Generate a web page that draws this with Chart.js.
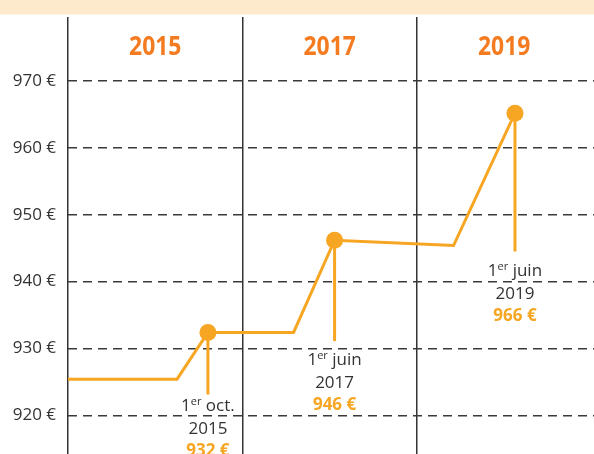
<!DOCTYPE html>
<html>
<head>
<meta charset="utf-8">
<script src="https://cdn.jsdelivr.net/npm/chart.js@4/dist/chart.umd.min.js"></script>
<style>
  html, body { margin: 0; padding: 0; background: #ffffff; }
  #wrap { width: 594px; height: 454px; position: relative; }
</style>
</head>
<body>
<div id="wrap"><canvas id="c" width="594" height="454"></canvas></div>
<script>
// ---- data ----
const columnYears = ['2015', '2017', '2019'];
const stepX = [0, 0.625, 0.802, 1.293, 1.528, 2.210, 2.562];      // position along the timeline (1 unit = one column)
const stepValues = [925.4, 925.4, 932.4, 932.4, 946.2, 945.4, 965.2]; // € amounts
const markerIndex = [2, 4, 6];
const markerDay = ['1', '1', '1'];
const markerSup = ['er', 'er', 'er'];
const markerMonth = ['oct.', 'juin', 'juin'];
const markerYear = ['2015', '2017', '2019'];
const markerAmount = ['932 €', '946 €', '966 €'];
const leaderEndValues = [923.1, 931.1, 944.5];
const labelCenterValues = [921.5, 928.4, 941.7];
const yTickValues = [920, 930, 940, 950, 960, 970];
const xTickValues = [0, 1, 2];

const ORANGE = '#f6a623';
const HEAD_ORANGE = '#f47b20';
const GREY = '#333333';
const FONT = '"Open Sans", "DejaVu Sans", sans-serif';

const points = stepX.map((x, i) => ({ x: x, y: stepValues[i] }));

const decorPlugin = {
  id: 'decor',
  beforeDraw(chart) {
    const ctx = chart.ctx;
    ctx.save();
    ctx.fillStyle = '#fde9cc';
    ctx.fillRect(0, 0, chart.width, 14.5);
    ctx.restore();
  },
  beforeDatasetsDraw(chart) {
    const ctx = chart.ctx, xs = chart.scales.x, ys = chart.scales.y;
    ctx.save();
    ctx.strokeStyle = ORANGE;
    ctx.lineWidth = 3;
    markerIndex.forEach((idx, k) => {
      const px = xs.getPixelForValue(stepX[idx]);
      ctx.beginPath();
      ctx.moveTo(px, ys.getPixelForValue(stepValues[idx]));
      ctx.lineTo(px, ys.getPixelForValue(leaderEndValues[k]));
      ctx.stroke();
    });
    ctx.restore();
  },
  afterDatasetsDraw(chart) {
    const ctx = chart.ctx, xs = chart.scales.x, ys = chart.scales.y, area = chart.chartArea;
    ctx.save();
    // column headers
    columnYears.forEach((t, k) => {
      const cx = xs.getPixelForValue(k + 0.5);
      ctx.save();
      ctx.translate(cx, area.top + 31);
      ctx.scale(0.88, 1);
      ctx.font = 'bold 26px ' + FONT;
      ctx.fillStyle = HEAD_ORANGE;
      ctx.textAlign = 'center';
      ctx.textBaseline = 'middle';
      ctx.fillText(t, 0, 0);
      ctx.restore();
    });
    // marker labels
    const lineGap = 22.5;
    markerIndex.forEach((idx, k) => {
      const cx = xs.getPixelForValue(stepX[idx]);
      const cy = ys.getPixelForValue(labelCenterValues[k]);
      ctx.textBaseline = 'alphabetic';
      ctx.textAlign = 'left';
      const bigFont = '17px ' + FONT;
      const supFont = '11px ' + FONT;
      ctx.font = bigFont;
      const wDay = ctx.measureText(markerDay[k]).width;
      const wMonth = ctx.measureText(' ' + markerMonth[k]).width;
      ctx.font = supFont;
      const wSup = ctx.measureText(markerSup[k]).width;
      const total = wDay + wSup + wMonth;
      let x0 = cx - total / 2;
      const base = cy + 6;
      ctx.fillStyle = GREY;
      ctx.font = bigFont;
      ctx.fillText(markerDay[k], x0, base);
      ctx.font = supFont;
      ctx.fillText(markerSup[k], x0 + wDay, base - 6);
      ctx.font = bigFont;
      ctx.fillText(' ' + markerMonth[k], x0 + wDay + wSup, base);
      ctx.textAlign = 'center';
      ctx.fillText(markerYear[k], cx, base + lineGap);
      ctx.font = 'bold 17px ' + FONT;
      ctx.fillStyle = ORANGE;
      ctx.fillText(markerAmount[k], cx, base + 2 * lineGap);
    });
    ctx.restore();
  }
};

new Chart(document.getElementById('c'), {
  type: 'line',
  data: {
    datasets: [{
      data: points,
      borderColor: ORANGE,
      backgroundColor: ORANGE,
      borderWidth: 3,
      tension: 0,
      fill: false,
      pointRadius: (c) => markerIndex.includes(c.dataIndex) ? 8.5 : 0,
      pointHoverRadius: (c) => markerIndex.includes(c.dataIndex) ? 8.5 : 0,
      pointBorderWidth: 0,
      pointBackgroundColor: ORANGE,
      clip: false
    }]
  },
  options: {
    responsive: false,
    animation: false,
    devicePixelRatio: 1,
    layout: { autoPadding: false, padding: { top: 17, left: 0, right: 0, bottom: 0 } },
    plugins: { legend: { display: false }, tooltip: { enabled: false }, title: { display: false } },
    scales: {
      x: {
        type: 'linear',
        min: 0,
        max: 3.015,
        afterBuildTicks: (s) => { s.ticks = xTickValues.map(v => ({ value: v })); },
        afterFit: (s) => { s.height = 0; s.paddingLeft = 0; s.paddingRight = 0; s.paddingTop = 0; s.paddingBottom = 0; },
        ticks: { display: false },
        grid: { color: '#333333', lineWidth: 1.5, drawTicks: false },
        border: { display: false }
      },
      y: {
        min: 914.2,
        max: 979.6,
        afterBuildTicks: (s) => { s.ticks = yTickValues.map(v => ({ value: v })); },
        afterFit: (s) => { s.width = 68; s.paddingTop = 0; s.paddingBottom = 0; s.paddingLeft = 0; s.paddingRight = 0; },
        ticks: {
          padding: 12,
          color: '#333333',
          font: { family: FONT, size: 17 },
          callback: (v) => v + ' €'
        },
        grid: { color: '#3a3a3a', lineWidth: 1.4, drawTicks: false },
        border: { display: false, dash: [9, 6] }
      }
    }
  },
  plugins: [decorPlugin]
});
</script>
</body>
</html>
